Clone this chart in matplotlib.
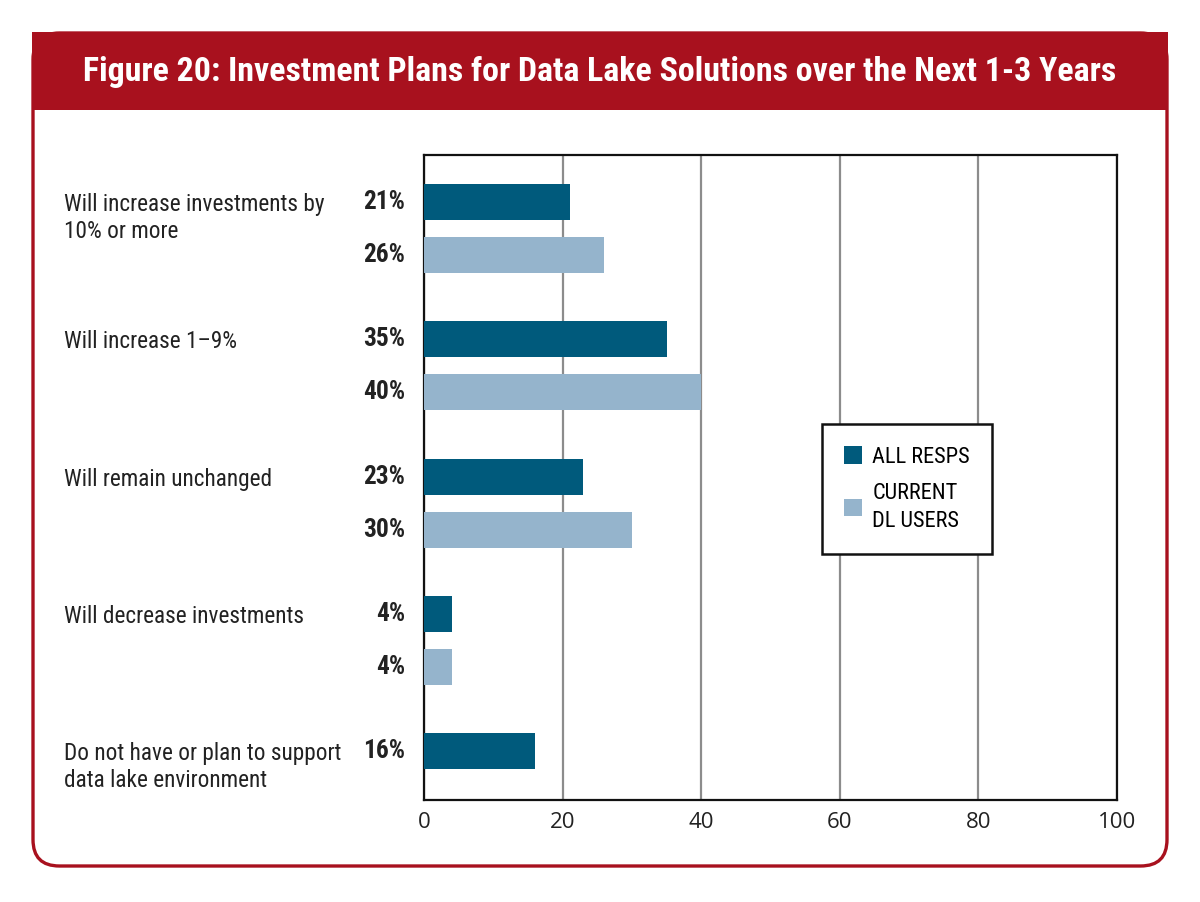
import matplotlib
matplotlib.use('Agg')
import numpy as np
import matplotlib.pyplot as plt
from matplotlib.patches import Patch, FancyBboxPatch, Rectangle
from matplotlib import transforms

narrow = ['Roboto Condensed', 'Liberation Sans Narrow', 'Roboto', 'DejaVu Sans']
plain = ['Open Sans', 'DejaVu Sans']

title = 'Figure 20: Investment Plans for Data Lake Solutions over the Next 1-3 Years'
categories = ['Will increase investments by\n10% or more',
              'Will increase 1\u20139%',
              'Will remain unchanged',
              'Will decrease investments',
              'Do not have or plan to support\ndata lake environment']
all_resps = [21, 35, 23, 4, 16]
dl_users = [26, 40, 30, 4, None]
series_names = ['ALL RESPS', 'CURRENT\nDL USERS']
xticks = [0, 20, 40, 60, 80, 100]

dark = '#005a7c'
light = '#95b4cc'
red = '#a8111e'

fig = plt.figure(figsize=(12, 9.02), dpi=100)
W, H = 1200, 902
renderer = fig.canvas.get_renderer()

def fx(px):
    return px / W

def fy(py):
    return 1 - py / H

def fit_size(s, width_px, weight='normal', base=20):
    # font size giving the wanted width in pixels
    t = fig.text(0, 0, s, fontsize=base, fontweight=weight, family=narrow)
    w = t.get_window_extent(renderer).width
    t.remove()
    return base * width_px / w

# frame: rounded outline plus red title band
frame = FancyBboxPatch((fx(33), fy(866)), fx(1167) - fx(33), fy(33) - fy(866),
                       boxstyle='round,pad=0,rounding_size=0.022',
                       transform=fig.transFigure, facecolor='white',
                       edgecolor=red, linewidth=2.4, zorder=0,
                       mutation_aspect=W / H)
fig.patches.append(frame)
band = Rectangle((fx(32), fy(110)), fx(1168) - fx(32), fy(32) - fy(110),
                 transform=fig.transFigure, facecolor=red, edgecolor='none', zorder=1)
fig.patches.append(band)
title_size = fit_size(title, 1030, weight='bold')
fig.text(0.5, fy(72), title, color='white', fontsize=title_size, fontweight='bold',
         family=narrow, ha='center', va='center', zorder=3)

body = min(fit_size('Do not have or plan to support', 276), 17)
pct_size = fit_size('21%', 42, weight='bold')
leg_size = fit_size('ALL RESPS', 98)

ax = fig.add_axes([fx(424), fy(800), fx(1117) - fx(424), fy(155) - fy(800)])
ax.set_zorder(2)

pos = np.arange(len(categories))
off = 0.193
h = 0.262
dark_y = pos - off
light_y = pos + off
ax.barh(dark_y, all_resps, height=h, color=dark, zorder=3)
lv = [v if v is not None else 0 for v in dl_users]
ax.barh(light_y, lv, height=h, color=light, zorder=3)

ax.set_xlim(0, 100)
ax.set_ylim(4.162, -0.535)
ax.set_xticks(xticks)
ax.set_xticklabels([str(t) for t in xticks], family=plain, fontsize=16)
ax.set_yticks([])
ax.tick_params(axis='x', length=0, pad=9, colors='#222222')
ax.grid(axis='x', color='#8c8c8c', linewidth=1.6, zorder=1)
for s in ax.spines.values():
    s.set_linewidth(1.6)
    s.set_color('#111111')

# percent labels
lab_tr = transforms.blended_transform_factory(fig.transFigure, ax.transData)
for y, v in zip(dark_y, all_resps):
    ax.text(fx(405), y, f'{v}%', transform=lab_tr, ha='right', va='center',
            fontsize=pct_size, fontweight='bold', family=narrow, color='#222222',
            clip_on=False)
for y, v in zip(light_y, dl_users):
    if v is None:
        continue
    ax.text(fx(405), y, f'{v}%', transform=lab_tr, ha='right', va='center',
            fontsize=pct_size, fontweight='bold', family=narrow, color='#222222',
            clip_on=False)

# category labels, first line level with the dark bar
cat_tr = lab_tr + transforms.ScaledTranslation(0, 6.5 / 72, fig.dpi_scale_trans)
for y, c in zip(dark_y, categories):
    ax.text(fx(64), y, c, transform=cat_tr, ha='left', va='top',
            fontsize=body, family=narrow, color='#222222', linespacing=1.22,
            clip_on=False)

handles = [Patch(facecolor=dark, edgecolor='none'),
           Patch(facecolor=light, edgecolor='none')]
leg = ax.legend(handles, series_names, loc='upper left',
                bbox_to_anchor=(fx(822), fy(424)), bbox_transform=fig.transFigure,
                borderaxespad=0, fancybox=False, framealpha=1, edgecolor='#111111',
                prop={'family': narrow, 'size': leg_size}, handlelength=0.8,
                handleheight=0.85, handletextpad=0.45, borderpad=1.0, labelspacing=0.65)
for t in leg.get_texts():
    t.set_linespacing(1.45)
leg.get_frame().set_linewidth(1.8)
leg.set_zorder(5)

fig.savefig('out.png', dpi=100, facecolor='white')
